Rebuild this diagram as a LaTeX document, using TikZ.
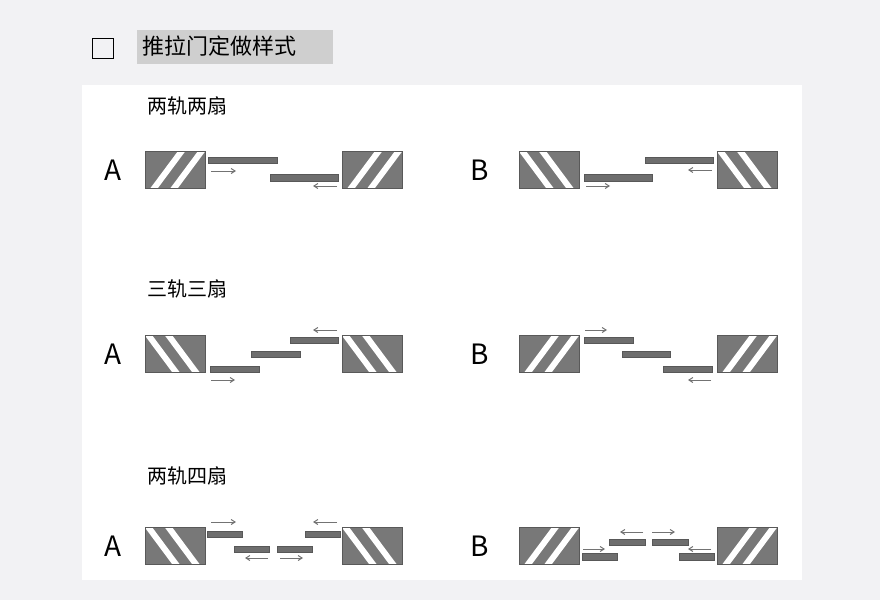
\documentclass[tikz,border=0pt]{standalone}
\usepackage{fontspec}
\newfontfamily\cjk{Noto Sans CJK SC}
\usetikzlibrary{arrows.meta}
\definecolor{bg}{HTML}{F2F2F4}
\definecolor{wall}{HTML}{787878}
\definecolor{pan}{HTML}{6E6E6E}
\definecolor{hl}{HTML}{CFCFCF}
\tikzset{
 panel/.style={fill=pan,draw=pan!80!black,line width=0.5pt},
 mv/.style={draw=gray!90!black,line width=1pt,-{Straight Barb[length=4pt,width=5pt]}},
 hd/.style={font=\cjk\fontsize{20}{20}\selectfont,anchor=west},
 lab/.style={font=\cjk\fontsize{28}{28}\selectfont}
}
\newcommand{\wallblk}[3]{% x, ytop, dir (1 = /, -1 = \)
 \begin{scope}
 \clip (#1,#2) rectangle ++(60,37);
 \fill[wall] (#1,#2) rectangle ++(60,37);
 \ifnum#3=1
  \draw[white,line width=6pt] (#1+7,#2+40) -- (#1+39,#2-3);
  \draw[white,line width=6pt] (#1+27,#2+40) -- (#1+59,#2-3);
 \else
  \draw[white,line width=6pt] (#1+53,#2+40) -- (#1+21,#2-3);
  \draw[white,line width=6pt] (#1+33,#2+40) -- (#1+1,#2-3);
 \fi
 \end{scope}
 \draw[gray!70!black,line width=0.5pt] (#1,#2) rectangle ++(60,37);
}
\newcommand{\pn}[4]{\draw[panel] (#1,#3) rectangle (#2,#4);}
\newcommand{\ar}[3]{\draw[mv] (#1,#3) -- (#2,#3);}
\begin{document}
\begin{tikzpicture}[x=1pt,y=-1pt]
\useasboundingbox (0,0) rectangle (880,600);
\fill[bg] (0,0) rectangle (880,600);
\fill[white] (82,85) rectangle (802,580);
% title
\draw[black,line width=0.9pt] (92,38) rectangle (113,58);
\fill[hl] (137,30) rectangle (333,64);
\node[anchor=west,font=\cjk\fontsize{22}{22}\selectfont] (title) at (139,46) {推拉门定做样式};
% headings
\node[hd] (h1) at (144,106) {两轨两扇};
\node[hd] (h2) at (144,289) {三轨三扇};
\node[hd] (h3) at (144,476) {两轨四扇};
% labels
\node[lab] (a1) at (113,170) {A};
\node[lab] (b1) at (480,170) {B};
\node[lab] (a2) at (113,354) {A};
\node[lab] (b2) at (480,354) {B};
\node[lab] (a3) at (113,546) {A};
\node[lab] (b3) at (480,546) {B};
% row 1
\wallblk{145}{151}{1}\wallblk{342}{151}{1}
\pn{208}{277}{157}{163}\pn{270}{338}{174}{181}
\ar{211}{236}{171}\ar{337}{313}{186}
\wallblk{519}{151}{-1}\wallblk{717}{151}{-1}
\pn{645}{713}{157}{163}\pn{584}{652}{174}{181}
\ar{712}{688}{170}\ar{586}{610}{186}
% row 2
\wallblk{145}{335}{-1}\wallblk{342}{335}{-1}
\pn{210}{259}{366}{372}\pn{251}{300}{351}{357}\pn{290}{338}{337}{343}
\ar{211}{235}{380}\ar{337}{313}{330}
\wallblk{519}{335}{1}\wallblk{717}{335}{1}
\pn{584}{633}{337}{343}\pn{622}{670}{351}{357}\pn{663}{712}{366}{372}
\ar{585}{607}{330}\ar{711}{688}{380}
% row 3
\wallblk{145}{527}{-1}\wallblk{342}{527}{-1}
\pn{207}{242}{531}{537}\pn{234}{269}{546}{552}\pn{277}{312}{546}{552}\pn{305}{340}{531}{537}
\ar{211}{236}{522}\ar{337}{313}{522}\ar{268}{245}{558}\ar{280}{303}{558}
\wallblk{519}{527}{1}\wallblk{717}{527}{1}
\pn{582}{617}{553}{560}\pn{609}{645}{539}{545}\pn{652}{688}{539}{545}\pn{679}{714}{553}{560}
\ar{583}{605}{549}\ar{711}{688}{549}\ar{643}{620}{532}\ar{652}{675}{532}
\end{tikzpicture}
\end{document}
